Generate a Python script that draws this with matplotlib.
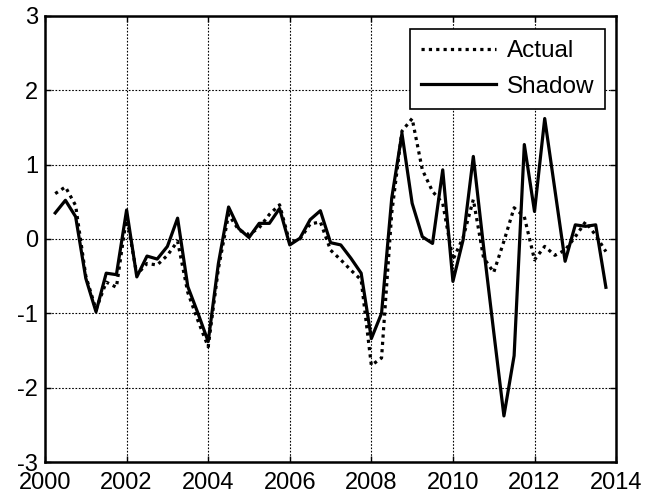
import numpy as np
import matplotlib
matplotlib.use('Agg')
import matplotlib.pyplot as plt

# quarterly values, 2000Q1 .. 2013Q3
start_year = 2000.25
actual = [0.61, 0.70, 0.45,
          -0.50, -0.95, -0.58, -0.65,
          0.30, -0.48, -0.33, -0.35,
          -0.22, -0.03, -0.72, -1.10,
          -1.45, -0.40, 0.33, 0.12,
          0.06, 0.15, 0.33, 0.46,
          -0.05, 0.00, 0.20, 0.23,
          -0.15, -0.28, -0.42, -0.55,
          -1.70, -1.60, 0.35, 1.45,
          1.62, 0.93, 0.64, 0.48,
          -0.28, 0.02, 0.53, -0.25,
          -0.45, -0.03, 0.42, 0.30,
          -0.28, -0.10, -0.22, -0.15,
          0.03, 0.23, 0.05, -0.17]
shadow = [0.35, 0.52, 0.30,
          -0.53, -0.98, -0.46, -0.48,
          0.39, -0.51, -0.23, -0.27,
          -0.10, 0.28, -0.64, -1.00,
          -1.38, -0.33, 0.43, 0.14,
          0.02, 0.21, 0.21, 0.41,
          -0.08, 0.01, 0.26, 0.38,
          -0.05, -0.08, -0.26, -0.46,
          -1.34, -1.00, 0.55, 1.42,
          0.48, 0.03, -0.06, 0.93,
          -0.57, -0.01, 1.11, -0.10,
          -1.25, -2.38, -1.57, 1.27,
          0.37, 1.62, 0.66, -0.30,
          0.19, 0.17, 0.19, -0.65]
years = start_year + 0.25 * np.arange(len(shadow))
xticks = [2000, 2002, 2004, 2006, 2008, 2010, 2012, 2014]
yticks = [-3, -2, -1, 0, 1, 2, 3]

plt.rcParams['font.family'] = ['Liberation Sans', 'DejaVu Sans']
plt.rcParams['axes.unicode_minus'] = False
fig = plt.figure(figsize=(6.46, 4.99), dpi=100)
ax = fig.add_axes([0.0697, 0.0741, 0.884, 0.894])

ax.plot(years, actual, color='black', lw=2.3, linestyle=(0, (1, 1.3)), label='Actual')
ax.plot(years, shadow, color='black', lw=2.3, label='Shadow')

ax.set_xlim(2000, 2014)
ax.set_ylim(-3, 3)
ax.set_xticks(xticks)
ax.set_yticks(yticks)
ax.tick_params(direction='in', length=4, width=1, labelsize=17,
               top=True, right=True)
ax.tick_params(axis='x', pad=7)
ax.tick_params(axis='y', pad=5)
ax.grid(True, color='black', linestyle=(0, (1.5, 1.5)), lw=0.8)
for s in ax.spines.values():
    s.set_linewidth(1.8)

leg = ax.legend(loc='upper right', bbox_to_anchor=(0.981, 0.970), borderaxespad=0,
                fancybox=False, framealpha=1, edgecolor='black', fontsize=17.5,
                handlelength=3.1, borderpad=0.45, labelspacing=0.55, handletextpad=0.45)
leg.get_frame().set_linewidth(1.2)

plt.savefig('out.png', dpi=100)
